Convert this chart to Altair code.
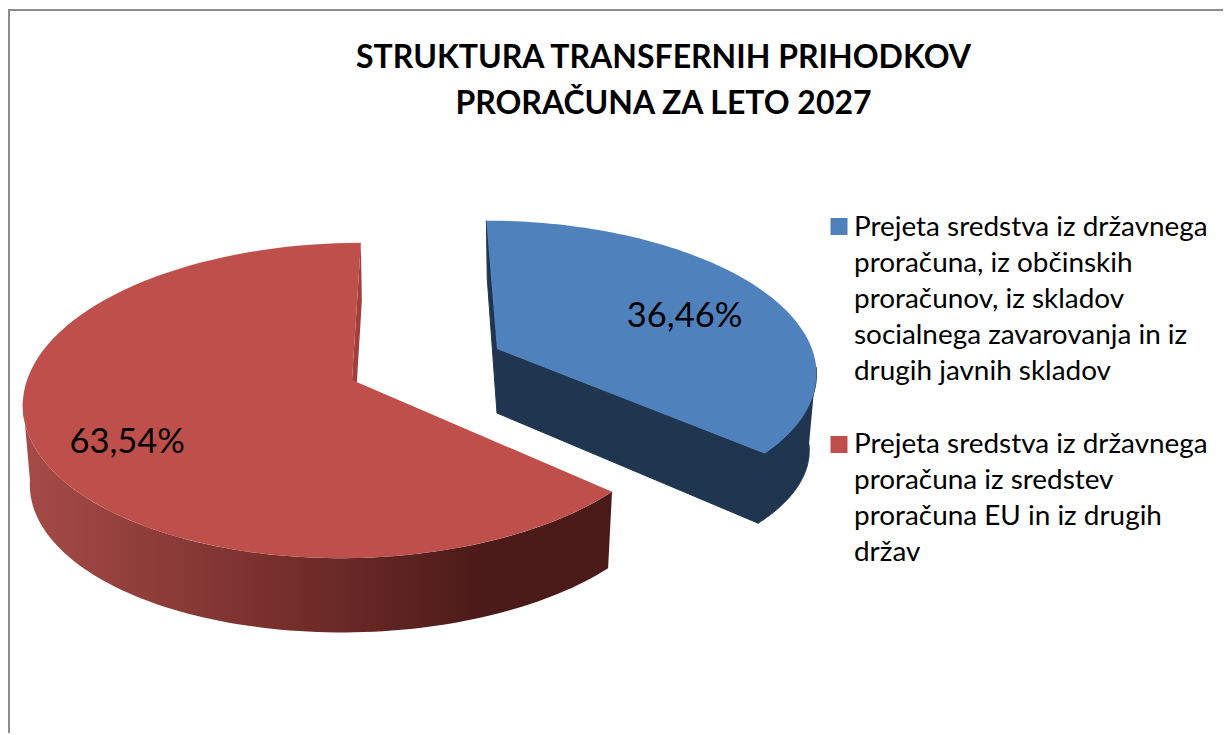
import math
import pandas as pd
import altair as alt

title_lines = ["STRUKTURA TRANSFERNIH PRIHODKOV", "PRORAČUNA ZA LETO 2027"]
shares = [36.46, 63.54]
share_labels = ["36,46%", "63,54%"]
categories = [
    "Prejeta sredstva iz državnega\nproračuna, iz občinskih\nproračunov, iz skladov\nsocialnega zavarovanja in iz\ndrugih javnih skladov",
    "Prejeta sredstva iz državnega\nproračuna iz sredstev\nproračuna EU in iz drugih\ndržav",
]
top_colors = ["#4F81BD", "#BE4F4B"]
side_blue = "#1F3550"
side_red_inner = "#A03F3C"
FONT = "Lato"

W, H = 1215, 725
K = 0.13
# perspective disc parameters: apex x, apex y, rx, ry, shear
blue_top = (497, 349, 315, 145, 12)
blue_low = (497, 413, 306, 152, 11)
blue_wall = (497, 428, 308, 132, 11)
red_top = (352, 380, 325, 155, -10)
red_low = (353, 445, 322, 163, -10)
red_wall = (353, 460, 319, 150, -10)


def proj(disc, deg, r=1.0):
    ax, ay, rx, ry, c = disc
    u, v = r * math.sin(math.radians(deg)), -r * math.cos(math.radians(deg))
    w = 1 - K * v
    return ax + (rx * u + c * v) / w, ay + ry * v / w


def arc(disc, a0, a1, n=90):
    return [proj(disc, a0 + (a1 - a0) * i / n) for i in range(n + 1)]


def frame(points):
    return pd.DataFrame({"x": [p[0] for p in points], "y": [p[1] for p in points], "i": range(len(points))})


X = alt.X("x:Q", scale=alt.Scale(domain=[8, 8 + W], nice=False, zero=False), axis=None)
Y = alt.Y("y:Q", scale=alt.Scale(domain=[8, 8 + H], nice=False, zero=False, reverse=True), axis=None)


def poly(points, fill, edge=None):
    kw = {"stroke": edge, "strokeWidth": 1} if edge else {"strokeWidth": 0}
    return alt.Chart(frame(points)).mark_line(fill=fill, **kw).encode(
        x=X, y=Y, order=alt.Order("i:Q")
    )


split = shares[0] / sum(shares) * 360
ba = (blue_top[0], blue_top[1])
bl = (blue_low[0], blue_low[1])
ra = (red_top[0], red_top[1])
rl = (red_low[0], red_low[1])

red_grad = alt.Gradient(
    gradient="linear", x1=0, x2=1, y1=0, y2=0,
    stops=[
        alt.GradientStop(color="#A64B47", offset=0),
        alt.GradientStop(color="#742E2B", offset=0.46),
        alt.GradientStop(color="#4B1B19", offset=0.78),
        alt.GradientStop(color="#4A1A18", offset=1),
    ],
)

layers = [
    # blue slice: hidden sides first, then the top face
    poly([ba, proj(blue_top, 0), proj(blue_low, 0), bl], side_blue, side_blue),
    poly([ba, proj(blue_top, split), proj(blue_wall, split), bl], side_blue, side_blue),
    poly(arc(blue_top, 97, split) + arc(blue_wall, split, 97), side_blue, side_blue),
    poly([ba] + arc(blue_top, 0, split), top_colors[0]),
    # red slice
    poly([ra, proj(red_top, 360), proj(red_low, 360), rl], side_red_inner),
    poly(arc(red_top, split, 262.5) + arc(red_wall, 262.5, split), red_grad),
    poly([ra] + arc(red_top, split, 360), top_colors[1]),
]

# percent labels placed along each slice's mid angle
mids = [split / 2, split + (360 - split) / 2]
lab_pos = [proj(blue_top, mids[0], 0.69), proj(red_top, mids[1], 0.72)]
labels = pd.DataFrame({"x": [p[0] for p in lab_pos], "y": [p[1] + d for p, d in zip(lab_pos, [8, 15])], "t": share_labels})
layers.append(
    alt.Chart(labels).mark_text(font=FONT, fontSize=34.5, color="#000000", align="center", baseline="middle").encode(
        x=X, y=Y, text="t:N"
    )
)

# legend
legend = pd.DataFrame({"name": categories, "color": top_colors, "x": [839, 839], "y": [226.5, 444.5],
                       "tx": [854, 854], "ty": [214, 431]})
layers.append(
    alt.Chart(legend).mark_square(size=289, opacity=1, strokeWidth=0).encode(
        x=X, y=Y,
        fill=alt.Fill("name:N", scale=alt.Scale(domain=categories, range=top_colors), legend=None),
    )
)
layers.append(
    alt.Chart(legend).mark_text(font=FONT, fontSize=27.9, color="#000000", align="left", baseline="top",
                                lineBreak="\n", lineHeight=36).encode(
        x=alt.X("tx:Q", scale=alt.Scale(domain=[8, 8 + W], nice=False, zero=False), axis=None),
        y=alt.Y("ty:Q", scale=alt.Scale(domain=[8, 8 + H], nice=False, zero=False, reverse=True), axis=None),
        text="name:N",
    )
)

# frame on the top and left edges
layers.append(alt.Chart(pd.DataFrame({"a": [0]})).mark_rule(color="#8C8C8C", strokeWidth=2).encode(
    x=alt.value(0), x2=alt.value(W), y=alt.value(2)))
layers.append(alt.Chart(pd.DataFrame({"a": [0]})).mark_rule(color="#8C8C8C", strokeWidth=2).encode(
    x=alt.value(1), y=alt.value(1), y2=alt.value(H)))

chart = (
    alt.layer(*layers)
    .properties(
        width=W, height=H, padding=0,
        autosize=alt.AutoSizeParams(type="none"),
        title=alt.TitleParams(text=title_lines, font=FONT, fontSize=32, fontWeight="bold", color="#000000",
                              anchor="middle", dx=48, dy=113, lineHeight=46, offset=0, baseline="top"),
    )
    .configure_view(stroke=None)
)
chart.save("out.html", embed_options={"renderer": "svg", "actions": False})
